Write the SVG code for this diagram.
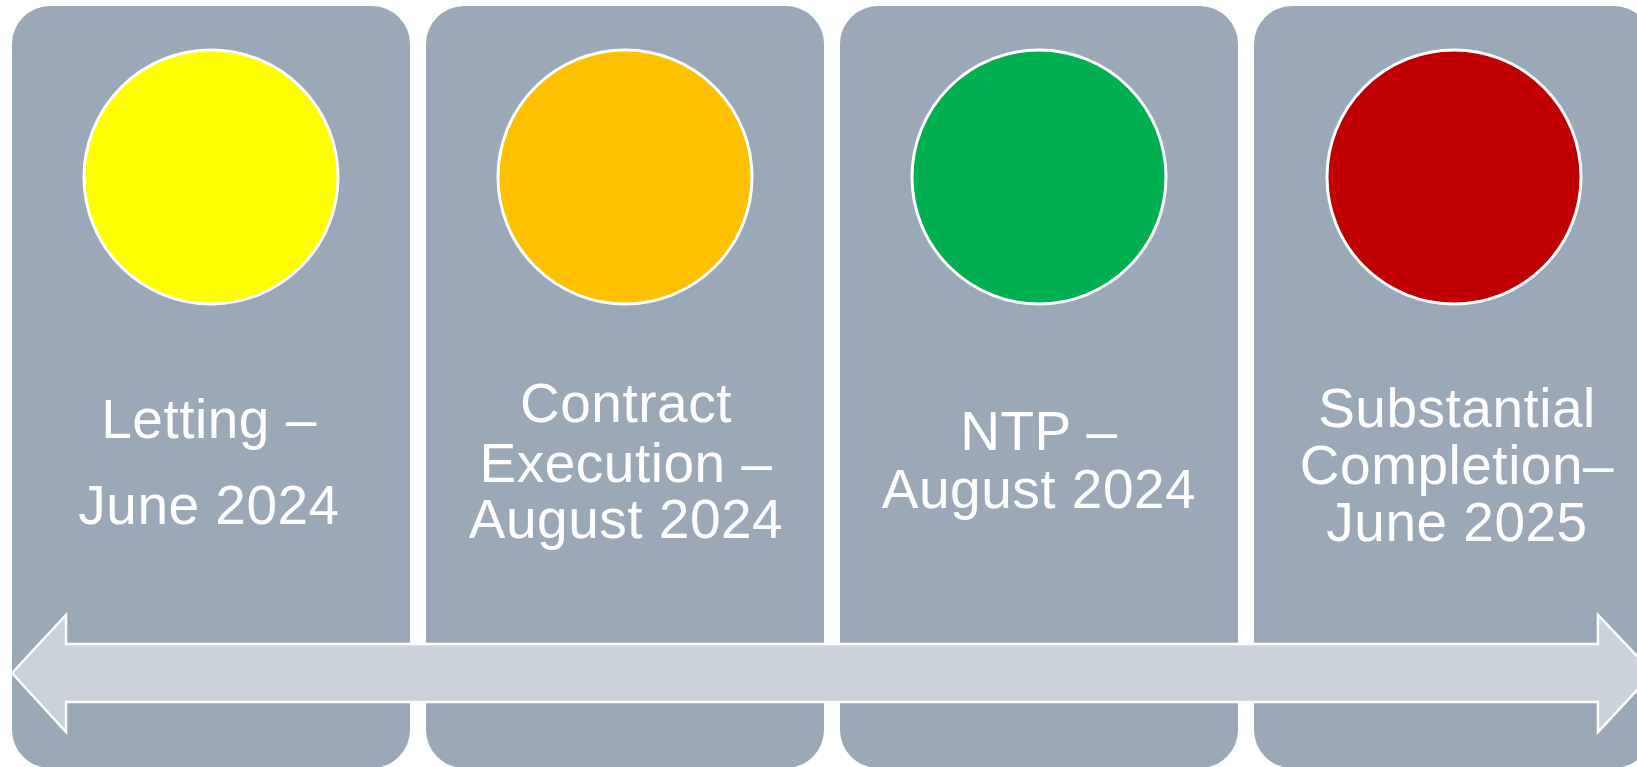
<svg xmlns="http://www.w3.org/2000/svg" width="1637" height="767" viewBox="0 0 1637 767">
<style>
.box{fill:#9BA8B7}
.dot{stroke:#FFFFFF;stroke-width:3}
.lbl{font-family:"Liberation Sans",Arial,sans-serif;font-size:55px;letter-spacing:0.5px;fill:#FFFFFF;text-anchor:middle}
.arrow{fill:#CBD2DB;stroke:#FFFFFF;stroke-width:2.5;stroke-linejoin:miter}
</style>
<rect width="1637" height="767" fill="#FFFFFF"/>
<g id="node1">
<rect class="box" x="12" y="6" width="398" height="762" rx="38"/>
<circle class="dot" cx="211" cy="177" r="127" fill="#FFFF00"/>
<text class="lbl" x="209" y="438">Letting –</text>
<text class="lbl" x="209" y="524">June 2024</text>
</g>
<g id="node2">
<rect class="box" x="426" y="6" width="398" height="762" rx="38"/>
<circle class="dot" cx="625" cy="177" r="127" fill="#FFC000"/>
<text class="lbl" x="626" y="422">Contract</text>
<text class="lbl" x="626" y="482">Execution –</text>
<text class="lbl" x="626" y="538">August 2024</text>
</g>
<g id="node3">
<rect class="box" x="840" y="6" width="398" height="762" rx="38"/>
<circle class="dot" cx="1039" cy="177" r="127" fill="#00B050"/>
<text class="lbl" x="1039" y="450">NTP –</text>
<text class="lbl" x="1039" y="508">August 2024</text>
</g>
<g id="node4">
<rect class="box" x="1254" y="6" width="398" height="762" rx="38"/>
<circle class="dot" cx="1454" cy="177" r="127" fill="#C00000"/>
<text class="lbl" x="1457" y="427">Substantial</text>
<text class="lbl" x="1457" y="484">Completion–</text>
<text class="lbl" x="1457" y="541">June 2025</text>
</g>
<g id="connectors">
<path class="arrow" d="M12,673 L66,615 L66,644 L1598,644 L1598,615 L1653,673 L1598,732 L1598,702 L66,702 L66,732 Z"/>
</g>
</svg>
